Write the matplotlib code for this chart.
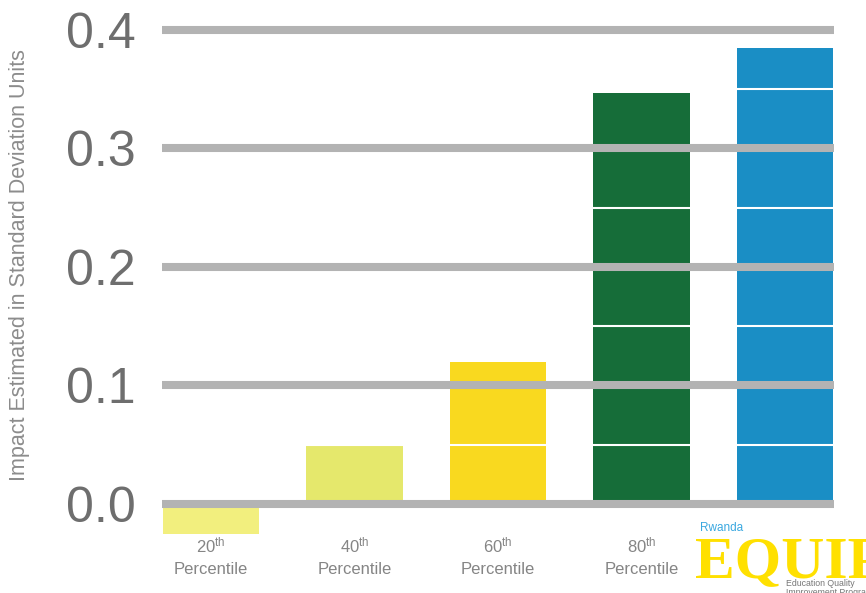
import matplotlib
matplotlib.use("Agg")
import matplotlib.pyplot as plt

plt.rcParams['font.family'] = ['Liberation Sans', 'DejaVu Sans']
plt.rcParams['mathtext.fontset'] = 'custom'
plt.rcParams['mathtext.rm'] = 'Liberation Sans'
plt.rcParams['mathtext.it'] = 'Liberation Sans'
plt.rcParams['mathtext.bf'] = 'Liberation Sans:bold'

# ---- data ----
percentiles = ["20", "40", "60", "80", ""]
impacts = [-0.025, 0.049, 0.12, 0.347, 0.385]
bar_colors = ["#F2EF7E", "#E5E86C", "#F9D91F", "#166D39", "#1A8EC5"]
y_ticks = [0.0, 0.1, 0.2, 0.3, 0.4]
y_tick_labels = ["0.0", "0.1", "0.2", "0.3", "0.4"]
band_levels = [0.05, 0.15, 0.25, 0.35]
y_label = "Impact Estimated in Standard Deviation Units"

fig = plt.figure(figsize=(8.66, 5.93), dpi=100)
ax = fig.add_axes([162/866, 1-540/593, (834-162)/866, (540-20)/593])

x = list(range(len(impacts)))
ax.bar(x, impacts, width=0.67, color=bar_colors, zorder=1)

for lv in band_levels:
    ax.axhline(lv, color="white", lw=1.5, zorder=1.5)

ax.set_xlim(-0.34, len(impacts) - 1 + 0.34)
ax.set_ylim(-0.0304, 0.4084)

ax.set_axisbelow(False)
ax.set_yticks(y_ticks)
ax.set_yticklabels(y_tick_labels)
ax.yaxis.grid(True, color="#B3B3B3", lw=5.8, zorder=2.5)
ax.tick_params(axis="y", length=0, pad=19, labelsize=36, labelcolor="#6E6E6E")

labels = [(f"{p}$^{{\\mathrm{{th}}}}$\nPercentile" if p else "") for p in percentiles]
ax.set_xticks(x)
ax.set_xticklabels(labels, linespacing=1.5)
ax.tick_params(axis="x", length=0, pad=-3, labelsize=12, labelcolor="#858585")

for s in ax.spines.values():
    s.set_visible(False)

fig.text(0.023, 1-265/593, y_label, rotation=90, ha="center", va="center",
         fontsize=15.5, color="#8C8C8C")

# logo
fig.text(700/866, 1-528/593, "Rwanda", fontsize=8.5, color="#3AA8E0",
         ha="left", va="center")
fig.text(695/866, 1-577/593, "EQUIP", fontsize=43, color="#FFE000",
         family="Liberation Serif", weight="bold", ha="left", va="baseline")
fig.text(786/866, 1-579/593, "Education Quality\nImprovement Programme",
         fontsize=6.3, color="#777777", ha="left", va="top", linespacing=1.05)

fig.savefig("out.png", dpi=100, facecolor="white")
